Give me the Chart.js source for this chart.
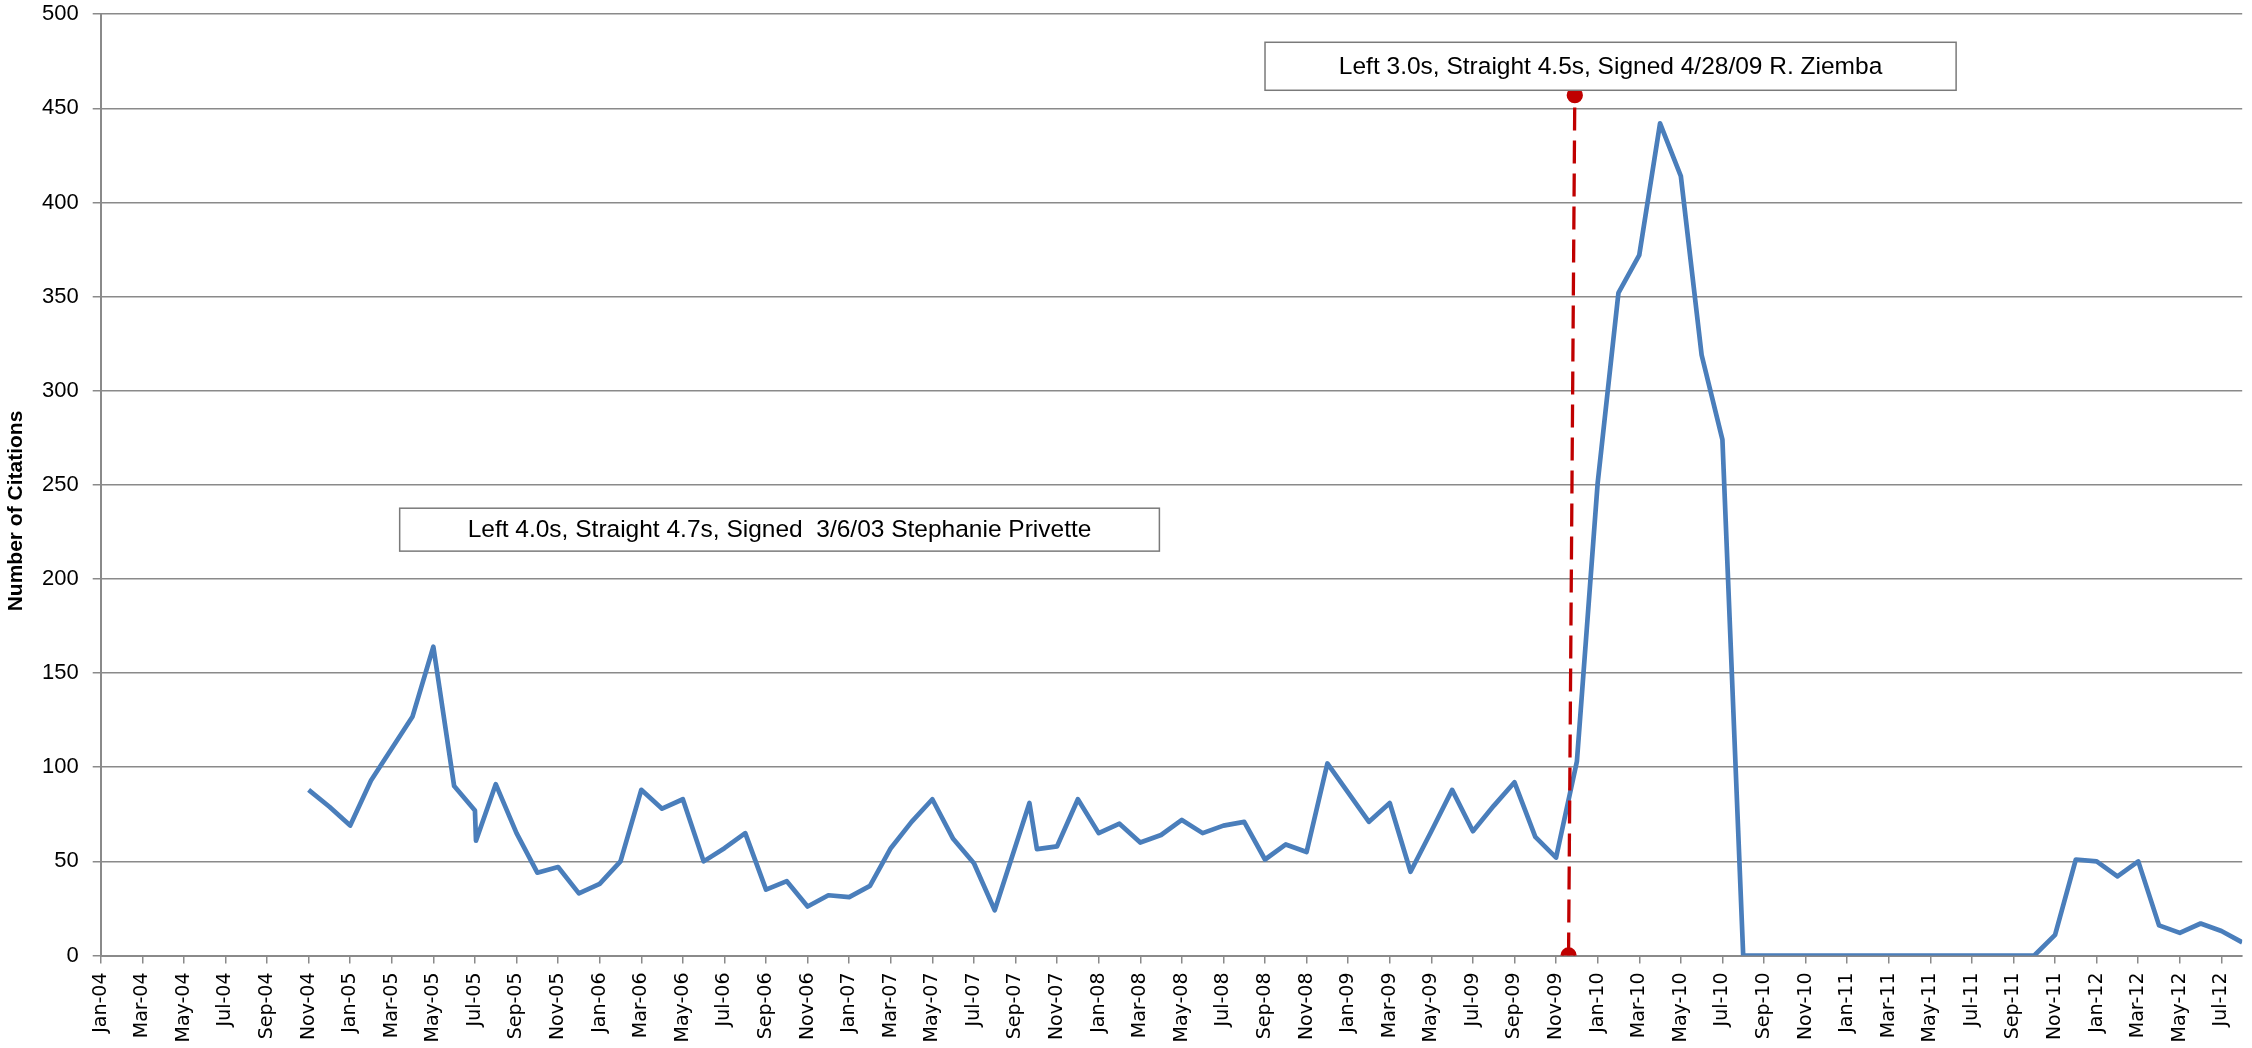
<!DOCTYPE html>
<html>
<head>
<meta charset="utf-8">
<script src="https://cdn.jsdelivr.net/npm/chart.js@4.4.0/dist/chart.umd.min.js"></script>
<style>
html,body{margin:0;padding:0;background:#ffffff;}
canvas{display:block;}
</style>
</head>
<body>
<canvas id="c" width="2252" height="1048"></canvas>
<script>
// ---- tick labels (every second month, month index 0 = Jan-04) ----
const tickLabels = [
  "Jan-04","Mar-04","May-04","Jul-04","Sep-04","Nov-04",
  "Jan-05","Mar-05","May-05","Jul-05","Sep-05","Nov-05",
  "Jan-06","Mar-06","May-06","Jul-06","Sep-06","Nov-06",
  "Jan-07","Mar-07","May-07","Jul-07","Sep-07","Nov-07",
  "Jan-08","Mar-08","May-08","Jul-08","Sep-08","Nov-08",
  "Jan-09","Mar-09","May-09","Jul-09","Sep-09","Nov-09",
  "Jan-10","Mar-10","May-10","Jul-10","Sep-10","Nov-10",
  "Jan-11","Mar-11","May-11","Jul-11","Sep-11","Nov-11",
  "Jan-12","Mar-12","May-12","Jul-12"
];
const yTicks = [0,50,100,150,200,250,300,350,400,450,500];

// ---- citation series: x = months since Jan-04, y = number of citations ----
const monthIndex = [
  10,11,12,13,14,15,16,17,18,18.05,19,20,21,22,23,24,25,26,27,28,29,30,31,32,33,34,35,
  36,37,38,39,40,41,42,43,44.67,45.03,46,47,48,49,50,51,52,53,54,55,56,57,58,59,
  60,61,62,63,64,65,66,67,68,69,70,71,72,73,74,75,76,77,78,79,
  80,81,82,83,84,85,86,87,88,89,90,91,92,93,94,95,96,97,98,99,100,101,102,103
];
const citations = [
  88,79,69,93,110,127,164,90,77,61,91,65,44,47,33,38,50,88,78,83,50,57,65,35,39.5,26,32,
  31,37,57,71,83,62,49,24,81,56.5,58,83,65,70,60,64,72,65,69,71,51,59,55,102,
  86.5,71,81,44.5,66,88,66,79.5,92,63,52,103,251,352,372,442,414,319,274,0,
  0,0,0,0,0,0,0,0,0,0,0,0,0,0,11,51,50,42,50,16,12,17,13,7
];

// ---- signing marker (dashed red line) ----
const signingMonth = [70.6, 70.9];
const signingLevel = [0, 457];

// ---- texts ----
const noteTexts = [
  "Left 4.0s, Straight 4.7s, Signed  3/6/03 Stephanie Privette",
  "Left 3.0s, Straight 4.5s, Signed 4/28/09 R. Ziemba"
];
const yAxisTitle = "Number of Citations";

const GRID = '#8a8a8a';

const notesPlugin = {
  id: 'notes',
  afterDatasetsDraw(chart, args, opts) {
    const ctx = chart.ctx, xs = chart.scales.x, ys = chart.scales.y;
    opts.boxes.forEach((b, i) => {
      const l = xs.getPixelForValue(b.x0), r = xs.getPixelForValue(b.x1);
      const t = ys.getPixelForValue(b.y1), bt = ys.getPixelForValue(b.y0);
      ctx.save();
      ctx.fillStyle = '#ffffff';
      ctx.fillRect(l, t, r - l, bt - t);
      ctx.strokeStyle = '#7a7a7a';
      ctx.lineWidth = 1.5;
      ctx.strokeRect(l, t, r - l, bt - t);
      ctx.fillStyle = '#000000';
      ctx.font = '24.5px "Liberation Sans", Arial, sans-serif';
      ctx.textAlign = 'center';
      ctx.textBaseline = 'middle';
      ctx.fillText(noteTexts[i], (l + r) / 2, (t + bt) / 2 + 1);
      ctx.restore();
    });
    ctx.save();
    ctx.translate(opts.titleX, opts.titleY);
    ctx.rotate(-Math.PI / 2);
    ctx.fillStyle = '#000000';
    ctx.font = 'bold 21px "Liberation Sans", Arial, sans-serif';
    ctx.textAlign = 'center';
    ctx.textBaseline = 'middle';
    ctx.fillText(yAxisTitle, 0, 0);
    ctx.restore();
  }
};

new Chart(document.getElementById('c'), {
  type: 'line',
  data: {
    datasets: [
      {
        label: 'Citations',
        data: monthIndex.map((m, i) => ({x: m, y: citations[i]})),
        borderColor: '#4A7EBB',
        backgroundColor: '#4A7EBB',
        borderWidth: 4.7,
        pointRadius: 0,
        tension: 0,
        borderJoinStyle: 'round',
        order: 2
      },
      {
        label: 'Signing',
        data: signingMonth.map((m, i) => ({x: m, y: signingLevel[i]})),
        borderColor: '#C00000',
        backgroundColor: '#C00000',
        pointBackgroundColor: '#C00000',
        pointBorderColor: '#C00000',
        borderWidth: 3.3,
        borderDash: [23, 10],
        pointRadius: 6.5,
        pointHoverRadius: 6.5,
        tension: 0,
        order: 1
      }
    ]
  },
  options: {
    responsive: false,
    animation: false,
    devicePixelRatio: 1,
    layout: {padding: {top: 0, right: 0, bottom: 0, left: 0}},
    plugins: {
      legend: {display: false},
      tooltip: {enabled: false},
      notes: {
        titleX: 16.5,
        titleY: 511,
        boxes: [
          {x0: 14.38, x1: 50.92, y0: 214.8, y1: 237.6},
          {x0: 56.0, x1: 89.24, y0: 459.6, y1: 485.1}
        ]
      }
    },
    scales: {
      x: {
        type: 'linear',
        min: 0,
        max: 103,
        afterBuildTicks: (s) => { s.ticks = tickLabels.map((_, i) => ({value: i * 2})); },
        afterFit: (s) => { s.height = 92.5; },
        ticks: {
          autoSkip: false,
          maxRotation: 90,
          minRotation: 90,
          padding: 9,
          color: '#000000',
          font: {family: '"DejaVu Sans", Verdana, sans-serif', size: 19, lineHeight: 0.4},
          callback: (v) => tickLabels[Math.round(v / 2)]
        },
        grid: {drawOnChartArea: false, drawTicks: true, tickLength: 8, color: GRID, lineWidth: 1.5},
        border: {display: true, color: GRID, width: 2}
      },
      y: {
        type: 'linear',
        min: 0,
        max: 500,
        afterBuildTicks: (s) => { s.ticks = yTicks.map(v => ({value: v})); },
        afterFit: (s) => { s.width = 100.7; },
        ticks: {
          padding: 14,
          color: '#000000',
          font: {family: '"Liberation Sans", Arial, sans-serif', size: 22, lineHeight: 0.02}
        },
        grid: {color: GRID, lineWidth: 1.5, tickLength: 8, drawTicks: true},
        border: {display: true, color: GRID, width: 2}
      }
    }
  },
  plugins: [notesPlugin]
});
</script>
</body>
</html>
